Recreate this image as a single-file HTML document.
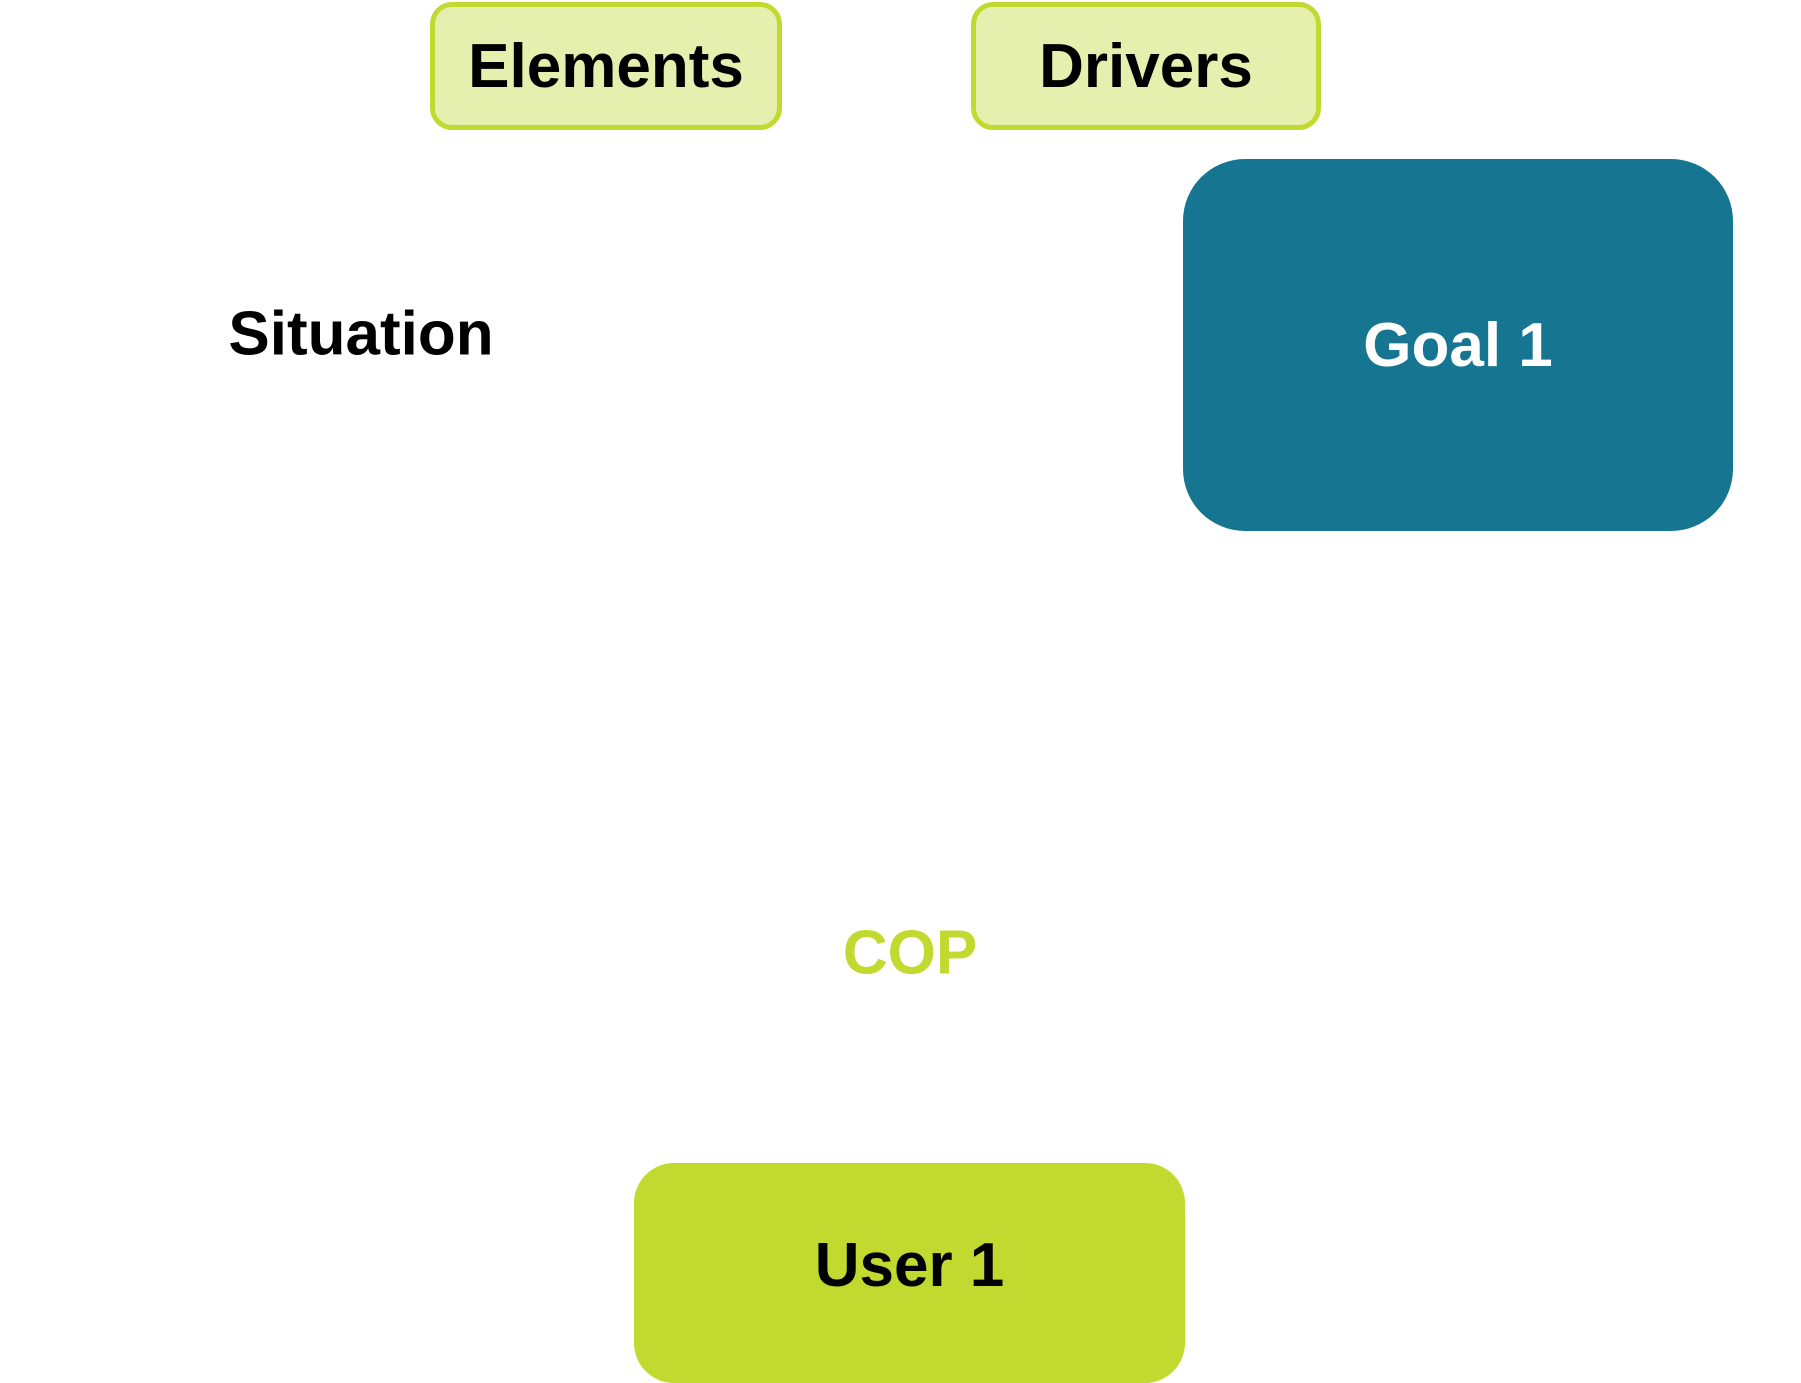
<!DOCTYPE html>
<html><head><style>
html,body{margin:0;padding:0;background:#fff;}
body{width:1801px;height:1368px;position:relative;overflow:hidden;font-family:"Liberation Sans",Arial,sans-serif;font-weight:bold;}
.b{position:absolute;box-sizing:border-box;display:flex;align-items:center;justify-content:center;}
.t{position:absolute;white-space:nowrap;transform:translate(-50%,-50%);font-size:62px;}
</style></head><body>
<div class="b" style="left:430px;top:2px;width:352px;height:128px;background:#e5f0ae;border:5px solid #c2d92f;border-radius:22px;font-size:62px;color:#000;">Elements</div>
<div class="b" style="left:971px;top:2px;width:350px;height:128px;background:#e5f0ae;border:5px solid #c2d92f;border-radius:22px;font-size:62px;color:#000;">Drivers</div>
<div class="b" style="left:1183px;top:159px;width:550px;height:372px;background:#167590;border-radius:62px;font-size:62px;color:#fff;">Goal 1</div>
<div class="b" style="left:634px;top:1163px;width:551px;height:220px;background:#c2d92f;border-radius:40px;font-size:62px;color:#000;padding-bottom:15px;">User 1</div>
<div class="t" style="left:361px;top:334px;color:#000;">Situation</div>
<div class="t" style="left:910px;top:953px;color:#c2d92f;">COP</div>
</body></html>
